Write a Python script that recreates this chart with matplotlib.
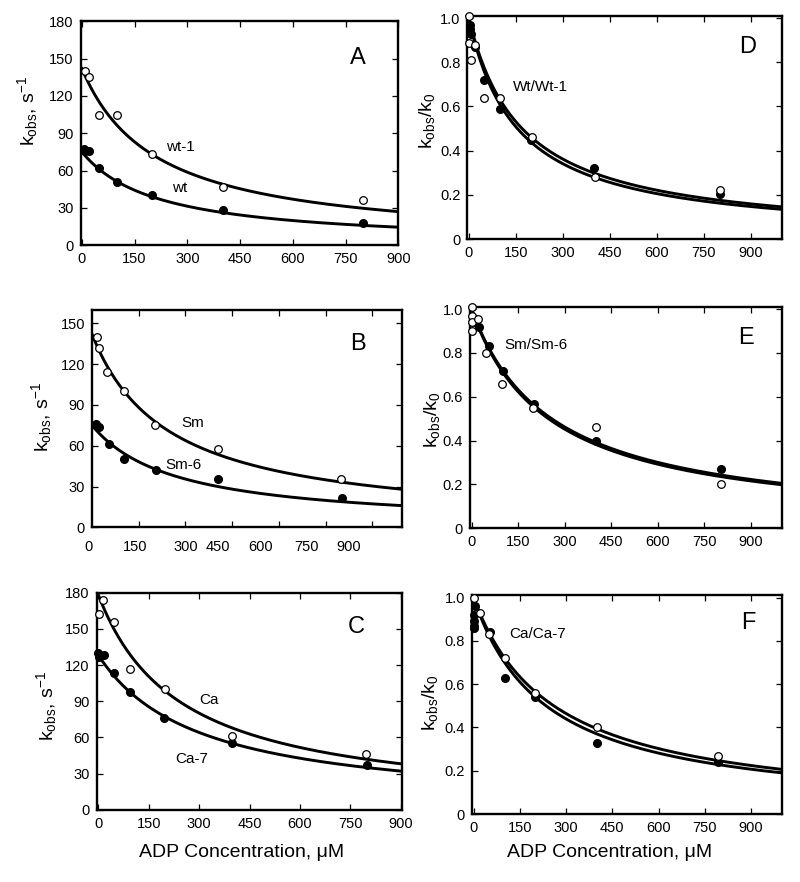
import numpy as np
import matplotlib
matplotlib.use('Agg')
import matplotlib.pyplot as plt

plt.rcParams['font.family'] = ['Liberation Sans', 'DejaVu Sans']
plt.rcParams['mathtext.fontset'] = 'custom'
plt.rcParams['mathtext.rm'] = 'Liberation Sans'
plt.rcParams['mathtext.it'] = 'Liberation Sans:italic'

# ---- data (ADP in uM) ----
# A: wt (filled), wt-1 (open), k_obs in s^-1
a_fill_x = [5, 10, 20, 50, 100, 200, 400, 800]
a_fill_y = [77, 76, 76, 62, 51, 40, 28, 18]
a_open_x = [10, 20, 50, 100, 200, 400, 800]
a_open_y = [140, 135, 105, 105, 73, 47, 36]

# B: Sm-6 (filled), Sm (open)
b_fill_x = [13, 24, 54, 103, 204, 404, 803]
b_fill_y = [76, 74, 61.5, 50.5, 42.5, 35.5, 21.5]
b_open_x = [15, 22, 48, 102, 201, 403, 801]
b_open_y = [140, 131.5, 114, 100, 75.5, 57.5, 35.5]

# C: Ca-7 (filled), Ca (open)
c_fill_x = [0, 3, 15, 45, 95, 195, 398, 800]
c_fill_y = [130, 127, 128, 113, 98, 76, 55, 37]
c_open_x = [3, 13, 45, 95, 197, 398, 798]
c_open_y = [162, 174, 156, 117, 100, 61, 46.5]

# D: normalised wt / wt-1
d_fill_x = [3, 5, 8, 20, 50, 100, 200, 400, 800]
d_fill_y = [0.97, 0.95, 0.93, 0.87, 0.72, 0.59, 0.45, 0.32, 0.205]
d_open_x = [2, 1, 7, 20, 48, 100, 201, 401, 802]
d_open_y = [1.01, 0.885, 0.81, 0.88, 0.64, 0.64, 0.46, 0.28, 0.22]

# E: normalised Sm / Sm-6
e_fill_x = [5, 10, 25, 55, 100, 202, 402, 804]
e_fill_y = [0.96, 0.94, 0.92, 0.83, 0.72, 0.565, 0.40, 0.27]
e_open_x = [3, 1, 2, 1, 20, 48, 99, 198, 402, 804]
e_open_y = [1.01, 0.97, 0.94, 0.90, 0.955, 0.80, 0.66, 0.55, 0.46, 0.20]

# F: normalised Ca / Ca-7
f_fill_x = [0, 1, 2, 3, 5, 53, 101, 200, 401, 793]
f_fill_y = [0.92, 0.87, 0.89, 0.86, 0.96, 0.84, 0.63, 0.54, 0.33, 0.24]
f_open_x = [3, 21, 51, 101, 200, 401, 793]
f_open_y = [1.0, 0.93, 0.83, 0.72, 0.56, 0.40, 0.27]

# hyperbolic fits: k = k0 / (1 + [ADP]/Kd)
a_fits = [(142, 211), (75, 215)]
b_fits = [(142, 245), (75, 270)]
c_fits = [(178, 245), (128, 300)]
d_fits = [(1.0, 155), (1.0, 170)]
e_fits = [(1.0, 248), (1.0, 258)]
f_fits = [(1.0, 235), (1.0, 260)]

# B has its tick labels printed offset from the tick marks
b_label_pos = [-11, 140, 301, 403, 542, 688, 823]
b_label_txt = ['0', '150', '300', '450', '600', '750', '900']


def hyper(x, k0, kd):
    return k0 / (1 + x / kd)


ylab_k = r'k$_{\mathrm{obs}}$, s$^{\mathrm{-1}}$'
ylab_n = r'k$_{\mathrm{obs}}$/k$_{\mathrm{0}}$'
xlab = 'ADP Concentration, \u03bcM'

fig = plt.figure(figsize=(8, 8.82), dpi=100)

axA = fig.add_axes([0.101, 0.722, 0.397, 0.254])
axD = fig.add_axes([0.584, 0.729, 0.394, 0.253])
axB = fig.add_axes([0.115, 0.402, 0.387, 0.247])
axE = fig.add_axes([0.5875, 0.401, 0.39, 0.251])
axC = fig.add_axes([0.121, 0.082, 0.382, 0.246])
axF = fig.add_axes([0.59, 0.077, 0.3875, 0.248])


def style(ax, xlim, ylim, yticks, ylabels):
    ax.set_xlim(*xlim)
    ax.set_ylim(*ylim)
    ax.set_yticks(yticks, labels=ylabels)
    for s in ax.spines.values():
        s.set_linewidth(1.7)
    ax.tick_params(direction='in', length=4, width=0.9, top=True, right=True,
                   labelsize=10.5, pad=5)


def draw(ax, fits, xmax, ox, oy, fx, fy):
    xx = np.linspace(0, xmax, 400)
    for k0, kd in fits:
        ax.plot(xx, hyper(xx, k0, kd), color='black', lw=2.1, zorder=2)
    ax.plot(fx, fy, 'o', color='black', ms=5.5, zorder=3, clip_on=False)
    ax.plot(ox, oy, 'o', mfc='white', mec='black', mew=0.9, ms=5.5, zorder=4,
            clip_on=False)


def labels(ax, ylab, yx, yy, xl=None, xx=None, xy=None):
    ax.set_ylabel(ylab, fontsize=14, va='center')
    ax.yaxis.set_label_coords(yx, yy)
    if xl:
        ax.set_xlabel(xl, fontsize=14, va='center')
        ax.xaxis.set_label_coords(xx, xy)


xt = [0, 150, 300, 450, 600, 750, 900]
k_ticks = [0, 30, 60, 90, 120, 150, 180]
n_ticks = [0, 0.2, 0.4, 0.6, 0.8, 1.0]
n_labels = ['0', '0.2', '0.4', '0.6', '0.8', '1.0']
fs_lab = 11
fs_let = 17

# A
style(axA, (-3, 900), (0, 180), k_ticks, [str(t) for t in k_ticks])
axA.set_xticks(xt)
draw(axA, a_fits, 900, a_open_x, a_open_y, a_fill_x, a_fill_y)
axA.text(0.871, 0.835, 'A', transform=axA.transAxes, fontsize=fs_let, ha='center', va='center')
axA.text(280, 79, 'wt-1', fontsize=fs_lab, ha='center', va='center')
axA.text(277, 46, 'wt', fontsize=fs_lab, ha='center', va='center')
labels(axA, ylab_k, -0.167, 0.6)

# B
style(axB, (0, 994), (0, 160), k_ticks[:-1], [str(t) for t in k_ticks[:-1]])
axB.set_xticks(xt[1:], labels=[''] * 6)
for p, t in zip(b_label_pos, b_label_txt):
    axB.text(p, -0.09, t, transform=axB.get_xaxis_transform(), fontsize=10.5,
             ha='center', va='center')
draw(axB, b_fits, 994, b_open_x, b_open_y, b_fill_x, b_fill_y)
axB.text(0.86, 0.844, 'B', transform=axB.transAxes, fontsize=fs_let, ha='center', va='center')
axB.text(323, 76.5, 'Sm', fontsize=fs_lab, ha='center', va='center')
axB.text(294, 45.6, 'Sm-6', fontsize=fs_lab, ha='center', va='center')
labels(axB, ylab_k, -0.162, 0.506)

# C
style(axC, (-5, 905), (0, 180), k_ticks, [str(t) for t in k_ticks])
axC.set_xticks(xt)
draw(axC, c_fits, 905, c_open_x, c_open_y, c_fill_x, c_fill_y)
axC.text(0.85, 0.843, 'C', transform=axC.transAxes, fontsize=fs_let, ha='center', va='center')
axC.text(328, 91, 'Ca', fontsize=fs_lab, ha='center', va='center')
axC.text(279, 42, 'Ca-7', fontsize=fs_lab, ha='center', va='center')
labels(axC, ylab_k, -0.164, 0.48, xlab, 0.475, -0.198)

# D
style(axD, (-5, 1000), (0, 1.01), n_ticks, n_labels)
axD.set_xticks(xt)
draw(axD, d_fits, 1000, d_open_x, d_open_y, d_fill_x, d_fill_y)
axD.text(0.889, 0.861, 'D', transform=axD.transAxes, fontsize=fs_let, ha='center', va='center')
axD.text(227, 0.69, 'Wt/Wt-1', fontsize=fs_lab, ha='center', va='center')
labels(axD, ylab_n, -0.127, 0.53)

# E
style(axE, (-5, 1000), (0, 1.01), n_ticks, n_labels)
axE.set_xticks(xt)
draw(axE, e_fits, 1000, e_open_x, e_open_y, e_fill_x, e_fill_y)
axE.text(0.885, 0.86, 'E', transform=axE.transAxes, fontsize=fs_let, ha='center', va='center')
axE.text(209, 0.837, 'Sm/Sm-6', fontsize=fs_lab, ha='center', va='center')
labels(axE, ylab_n, -0.122, 0.49)

# F
style(axF, (-5, 1000), (0, 1.01), n_ticks, n_labels)
axF.set_xticks(xt)
draw(axF, f_fits, 1000, f_open_x, f_open_y, f_fill_x, f_fill_y)
axF.text(0.89, 0.872, 'F', transform=axF.transAxes, fontsize=fs_let, ha='center', va='center')
axF.text(209, 0.83, 'Ca/Ca-7', fontsize=fs_lab, ha='center', va='center')
labels(axF, ylab_n, -0.135, 0.51, xlab, 0.445, -0.174)

fig.savefig('out.png', dpi=100)
